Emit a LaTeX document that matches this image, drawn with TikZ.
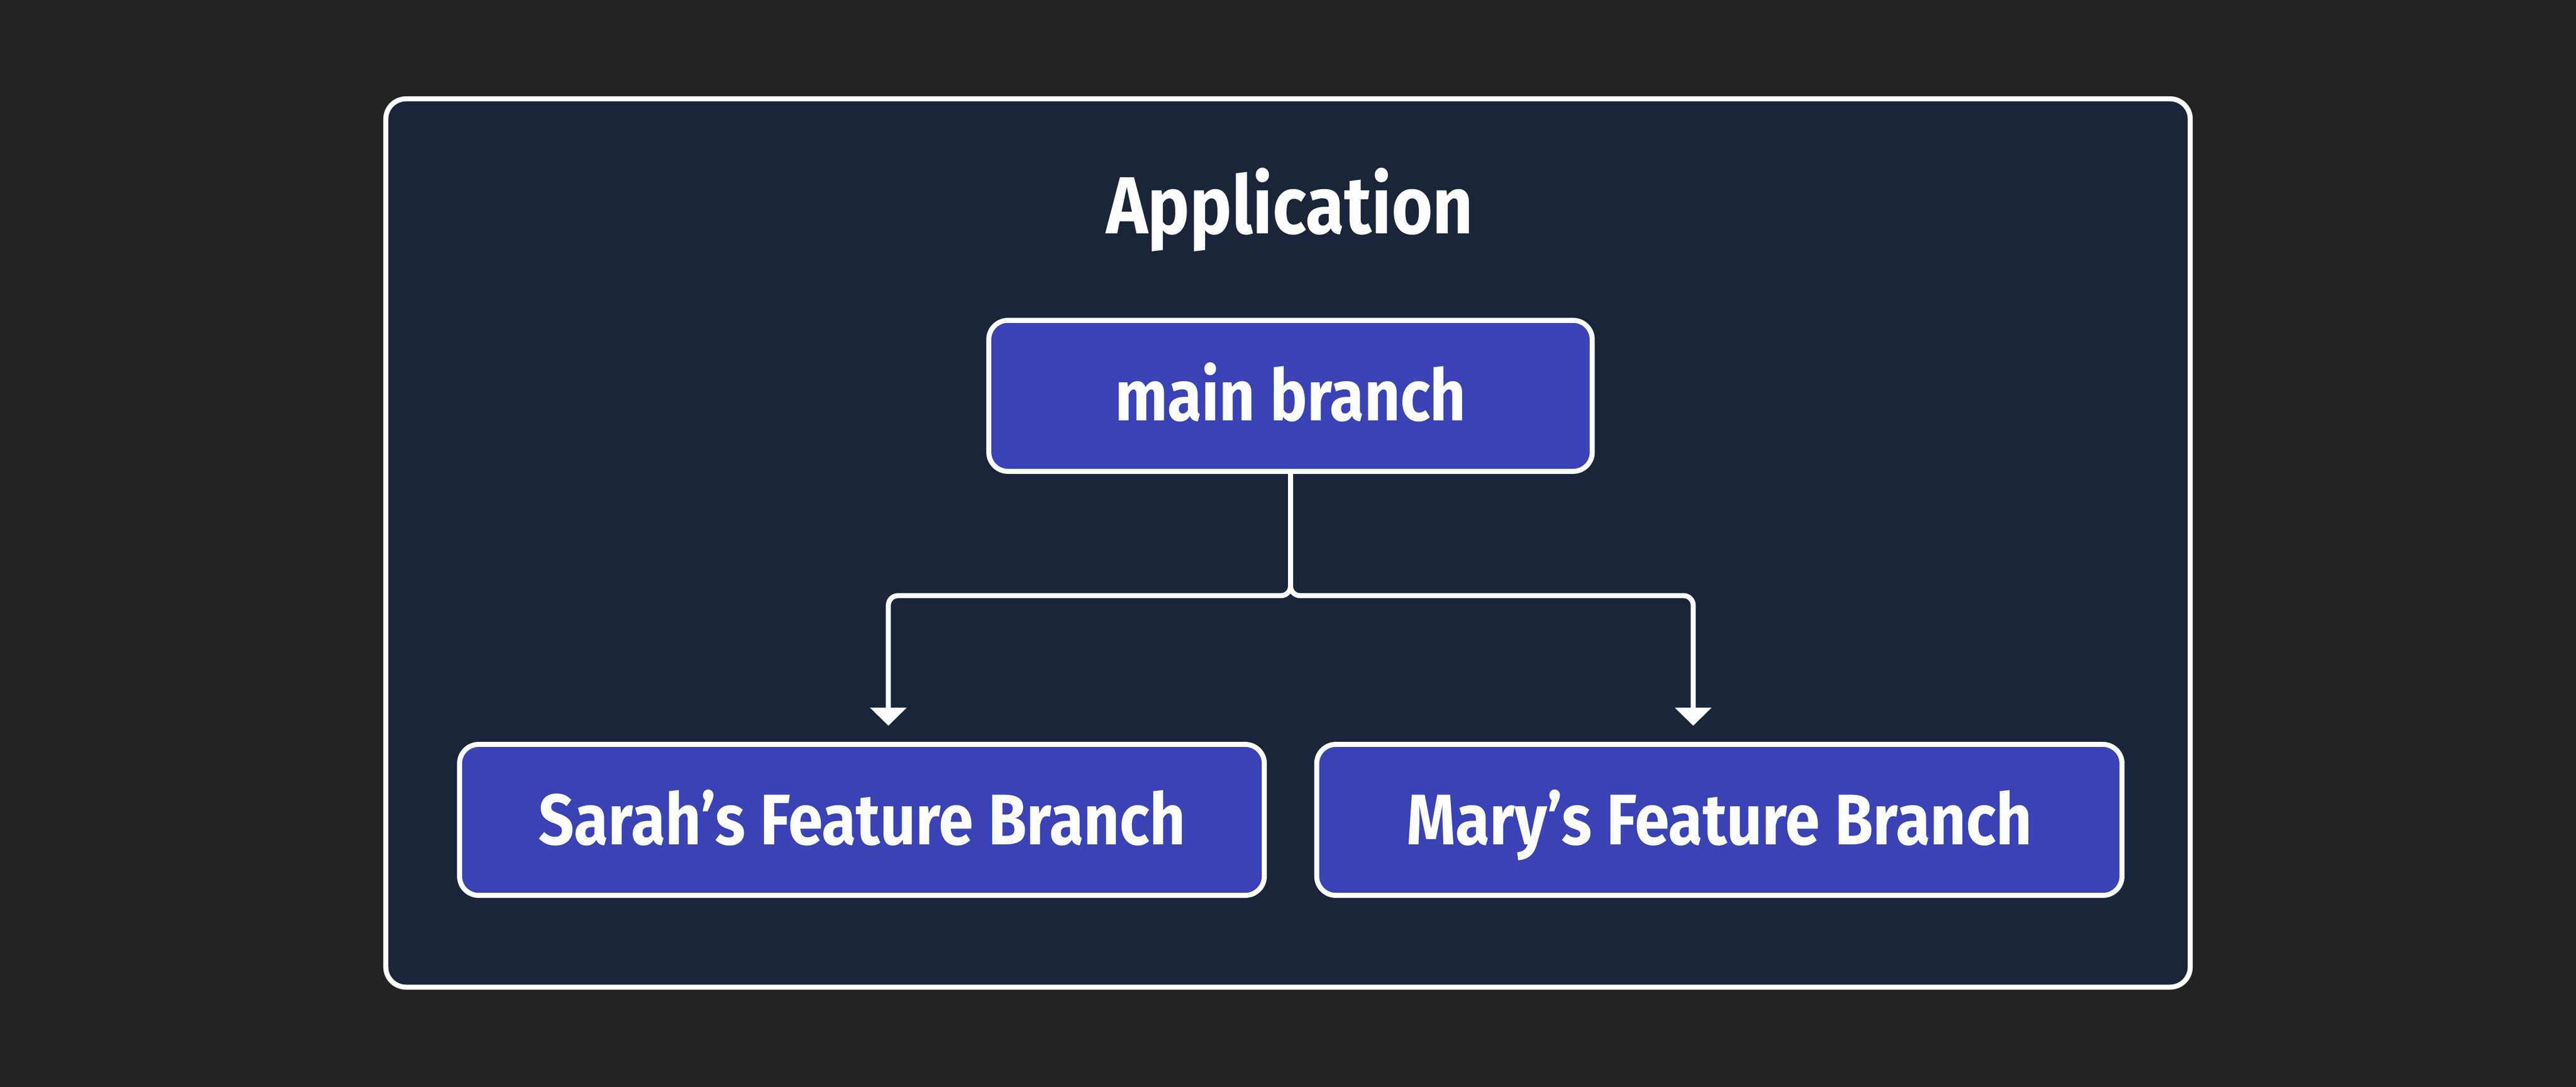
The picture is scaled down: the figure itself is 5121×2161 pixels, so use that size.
\documentclass[tikz,border=0pt]{standalone}
\usepackage{fontspec}
\usetikzlibrary{arrows.meta}
\newfontfamily\labelfont{Fira Sans}[FakeStretch=0.87]
\definecolor{pagebg}{HTML}{222222}
\definecolor{framefill}{HTML}{1A2539}
\definecolor{boxblue}{HTML}{3A42B5}
\begin{document}
\begin{tikzpicture}[x=0.01cm,y=-0.01cm,
  framebox/.style={draw=white, line width=0.1cm, fill=framefill, rounded corners=0.4cm, inner sep=0pt},
  branchbox/.style={draw=white, line width=0.1cm, fill=boxblue, rounded corners=0.38cm,
    minimum height=3cm, inner sep=0pt, text=white,
    font=\labelfont\bfseries\fontsize{40.5pt}{48pt}\selectfont,
    text height=0.98cm, text depth=0pt},
  titletext/.style={text=white, inner sep=0pt, font=\labelfont\bfseries\fontsize{45.8pt}{54pt}\selectfont},
  conn/.style={draw=white, line width=0.1cm, rounded corners=0.19cm,
    -{Triangle[length=0.36cm,width=0.71cm]}},
]
\fill[pagebg] (0,0) rectangle (5121,2161);
\useasboundingbox (0,0) rectangle (5121,2161);

\node[framebox, minimum width=35.85cm, minimum height=17.65cm] (frame) at (2560.5,1079.5) {};
\node[titletext, anchor=base] (app) at (2564,464) {Application};

\node[branchbox, minimum width=11.99cm] (main) at (2565.5,787) {main branch};
\node[branchbox, minimum width=15.99cm] (sarah) at (1713.5,1630) {Sarah’s Feature Branch};
\node[branchbox, minimum width=16cm] (mary) at (3418,1630) {Mary’s Feature Branch};

\coordinate (split) at ([yshift=-2.42cm]main.south);
\coordinate (sarahIn) at ([xshift=0.525cm,yshift=0.32cm]sarah.north);
\coordinate (maryIn) at ([xshift=-0.52cm,yshift=0.32cm]mary.north);

\draw[conn] (main.south) -- (split) -| (sarahIn);
\draw[conn] (main.south) -- (split) -| (maryIn);
\end{tikzpicture}
\end{document}
